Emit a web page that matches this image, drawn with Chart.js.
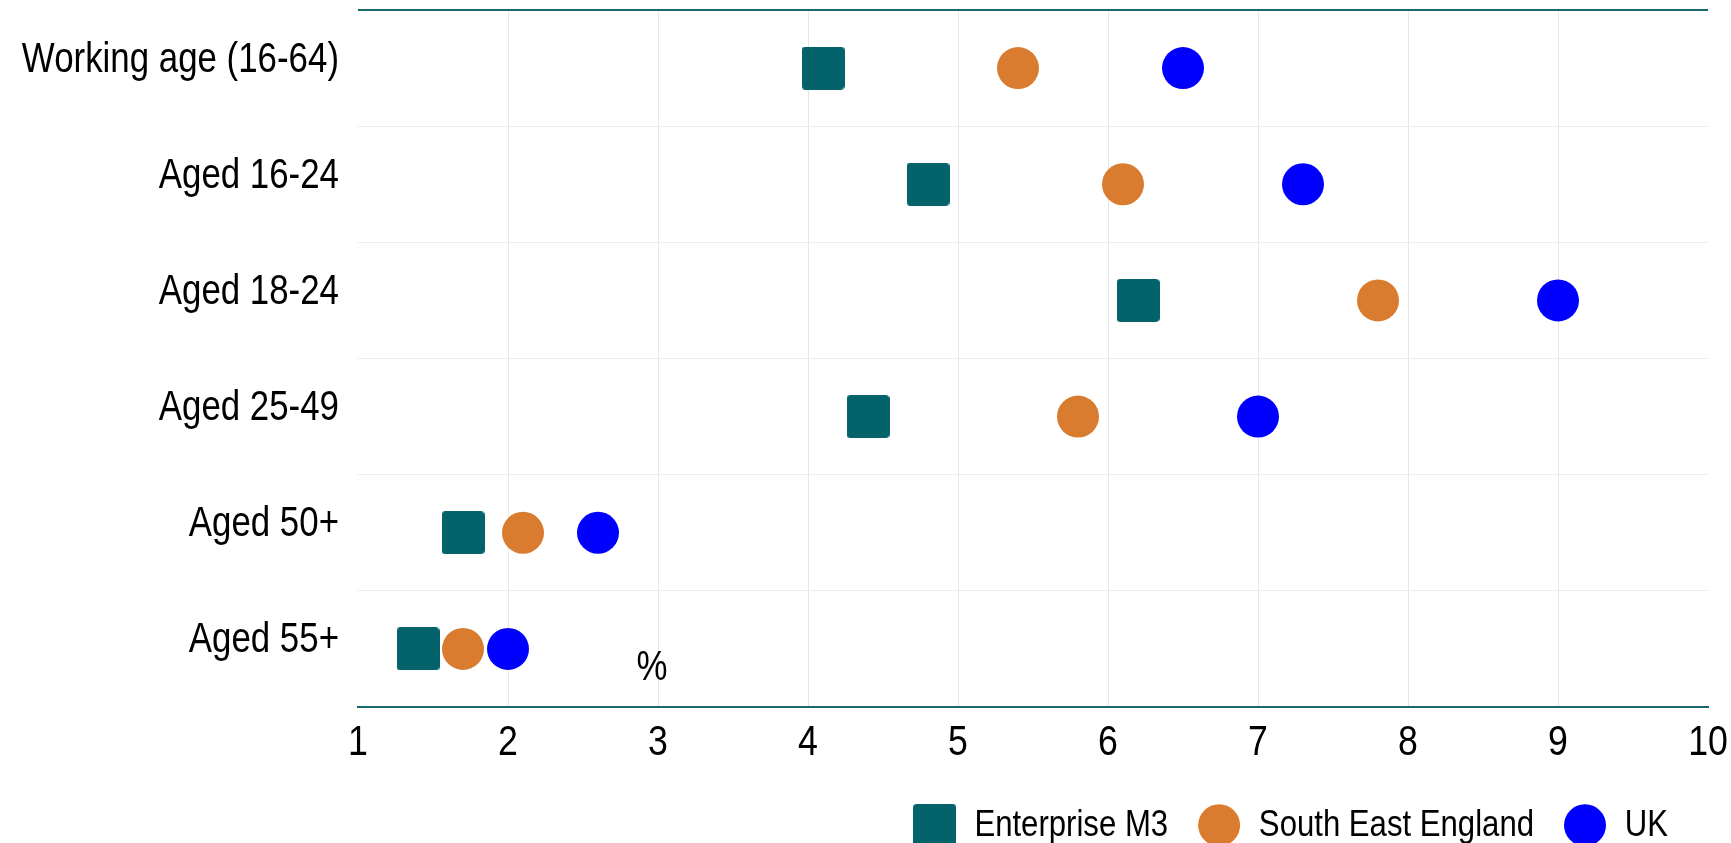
<!DOCTYPE html>
<html>
<head>
<meta charset="utf-8">
<script src="https://cdn.jsdelivr.net/npm/chart.js@4/dist/chart.umd.min.js"></script>
<style>
  html, body { margin: 0; padding: 0; background: #ffffff; }
  #wrap { width: 1731px; height: 843px; position: relative; }
</style>
</head>
<body>
<div id="wrap"><canvas id="chart"></canvas></div>
<script>
// Age groups (rows, top to bottom)
const categories = ['Working age (16-64)', 'Aged 16-24', 'Aged 18-24', 'Aged 25-49', 'Aged 50+', 'Aged 55+'];

// Rates by area, %
const enterpriseM3 = [4.1, 4.8, 6.2, 4.4, 1.7, 1.4];
const southEastEngland = [5.4, 6.1, 7.8, 5.8, 2.1, 1.7];
const uk = [6.5, 7.3, 9.0, 7.0, 2.6, 2.0];

const seriesNames = ['Enterprise M3', 'South East England', 'UK'];
const xTicks = [1, 2, 3, 4, 5, 6, 7, 8, 9, 10];
const unitLabel = '%';

const FONT = "'Liberation Sans Narrow', 'Arial Narrow', 'Liberation Sans', Arial, sans-serif";
const NARROW = 0.83;           // horizontal squeeze giving a narrow sans look
const TEAL = '#03626a';
const ORANGE = '#d97c30';
const BLUE = '#0000ff';
const AXIS_TEAL = '#18696e';

const canvas = document.getElementById('chart');
const ctx2d = canvas.getContext('2d');

// Condensed text: squeeze glyphs horizontally around their anchor point,
// and report matching widths so the layout stays consistent.
(function condenseText(ctx, k) {
  const fill = ctx.fillText.bind(ctx);
  const measure = ctx.measureText.bind(ctx);
  ctx.fillText = function (text, x, y, maxWidth) {
    ctx.save();
    ctx.translate(x, y);
    ctx.scale(k, 1);
    if (maxWidth !== undefined && maxWidth !== null) fill(text, 0, 0, maxWidth / k);
    else fill(text, 0, 0);
    ctx.restore();
  };
  ctx.measureText = function (text) {
    const m = measure(text);
    return {
      width: m.width * k,
      actualBoundingBoxLeft: m.actualBoundingBoxLeft * k,
      actualBoundingBoxRight: m.actualBoundingBoxRight * k,
      actualBoundingBoxAscent: m.actualBoundingBoxAscent,
      actualBoundingBoxDescent: m.actualBoundingBoxDescent,
      fontBoundingBoxAscent: m.fontBoundingBoxAscent,
      fontBoundingBoxDescent: m.fontBoundingBoxDescent
    };
  };
})(ctx2d, NARROW);

// Rounded square marker used for the Enterprise M3 series and its legend entry
function roundedSquare(size, radius, color) {
  const c = document.createElement('canvas');
  c.width = size; c.height = size;
  const g = c.getContext('2d');
  g.fillStyle = color;
  g.beginPath();
  g.roundRect(0, 0, size, size, radius);
  g.fill();
  return c;
}
const squareMarker = roundedSquare(43, 4, TEAL);

// Frame line along the top of the plot area and the unit label
const framePlugin = {
  id: 'frame',
  afterLayout(chart) {
    // keep the legend row a little clear of the right edge
    if (chart.legend) chart.legend.right -= 10;
  },
  afterDraw(chart) {
    const { ctx, chartArea } = chart;
    ctx.save();
    ctx.strokeStyle = AXIS_TEAL;
    ctx.lineWidth = 2;
    ctx.beginPath();
    ctx.moveTo(chartArea.left, chartArea.top);
    ctx.lineTo(chartArea.right, chartArea.top);
    ctx.stroke();
    ctx.fillStyle = '#000';
    ctx.font = '42px ' + FONT;
    ctx.textAlign = 'center';
    ctx.textBaseline = 'middle';
    ctx.fillText(unitLabel, chartArea.left + 294, chartArea.bottom - 39);
    ctx.restore();
  }
};

new Chart(canvas, {
  type: 'line',
  data: {
    labels: categories,
    datasets: [
      { label: seriesNames[0], data: enterpriseM3, pointStyle: squareMarker, backgroundColor: TEAL, borderColor: TEAL },
      { label: seriesNames[1], data: southEastEngland, pointStyle: 'circle', pointRadius: 21, backgroundColor: ORANGE, borderColor: ORANGE },
      { label: seriesNames[2], data: uk, pointStyle: 'circle', pointRadius: 21, backgroundColor: BLUE, borderColor: BLUE }
    ]
  },
  options: {
    indexAxis: 'y',
    responsive: true,
    maintainAspectRatio: false,
    animation: false,
    showLine: false,
    elements: { point: { borderWidth: 0, hoverRadius: 21 } },
    layout: { autoPadding: false, padding: { top: 10, right: 23, left: 0, bottom: 0 } },
    scales: {
      x: {
        type: 'linear',
        position: 'bottom',
        min: 1,
        max: 10,
        afterBuildTicks(scale) { scale.ticks = xTicks.map(v => ({ value: v })); },
        afterFit(scale) {
          scale.height = 69.5;
          scale.paddingLeft = 0;
          scale.paddingRight = 0;
        },
        ticks: { color: '#000', padding: 10, font: { family: FONT, size: 43 } },
        grid: {
          drawTicks: false,
          lineWidth: 1,
          color(ctx) {
            const v = ctx.tick && ctx.tick.value;
            return (v === 1 || v === 10) ? 'rgba(0,0,0,0)' : '#e6e6e6';
          }
        },
        border: { display: true, color: AXIS_TEAL, width: 2 }
      },
      y: {
        type: 'category',
        offset: true,
        afterFit(scale) {
          scale.width = 358;
          scale.paddingTop = 0;
          scale.paddingBottom = 0;
        },
        ticks: { color: '#000', padding: 19, labelOffset: -8, font: { family: FONT, size: 42 } },
        grid: { offset: true, drawTicks: false, color: '#ececec', lineWidth: 1 },
        border: { display: false }
      }
    },
    plugins: {
      tooltip: { enabled: false },
      legend: {
        display: true,
        position: 'bottom',
        align: 'end',
        maxHeight: 66.5,
        labels: {
          usePointStyle: true,
          pointStyleWidth: 42,
          boxHeight: 29.7,
          padding: 30,
          color: '#000',
          font: { family: FONT, size: 37.5 }
        }
      }
    }
  },
  plugins: [framePlugin]
});
</script>
</body>
</html>
